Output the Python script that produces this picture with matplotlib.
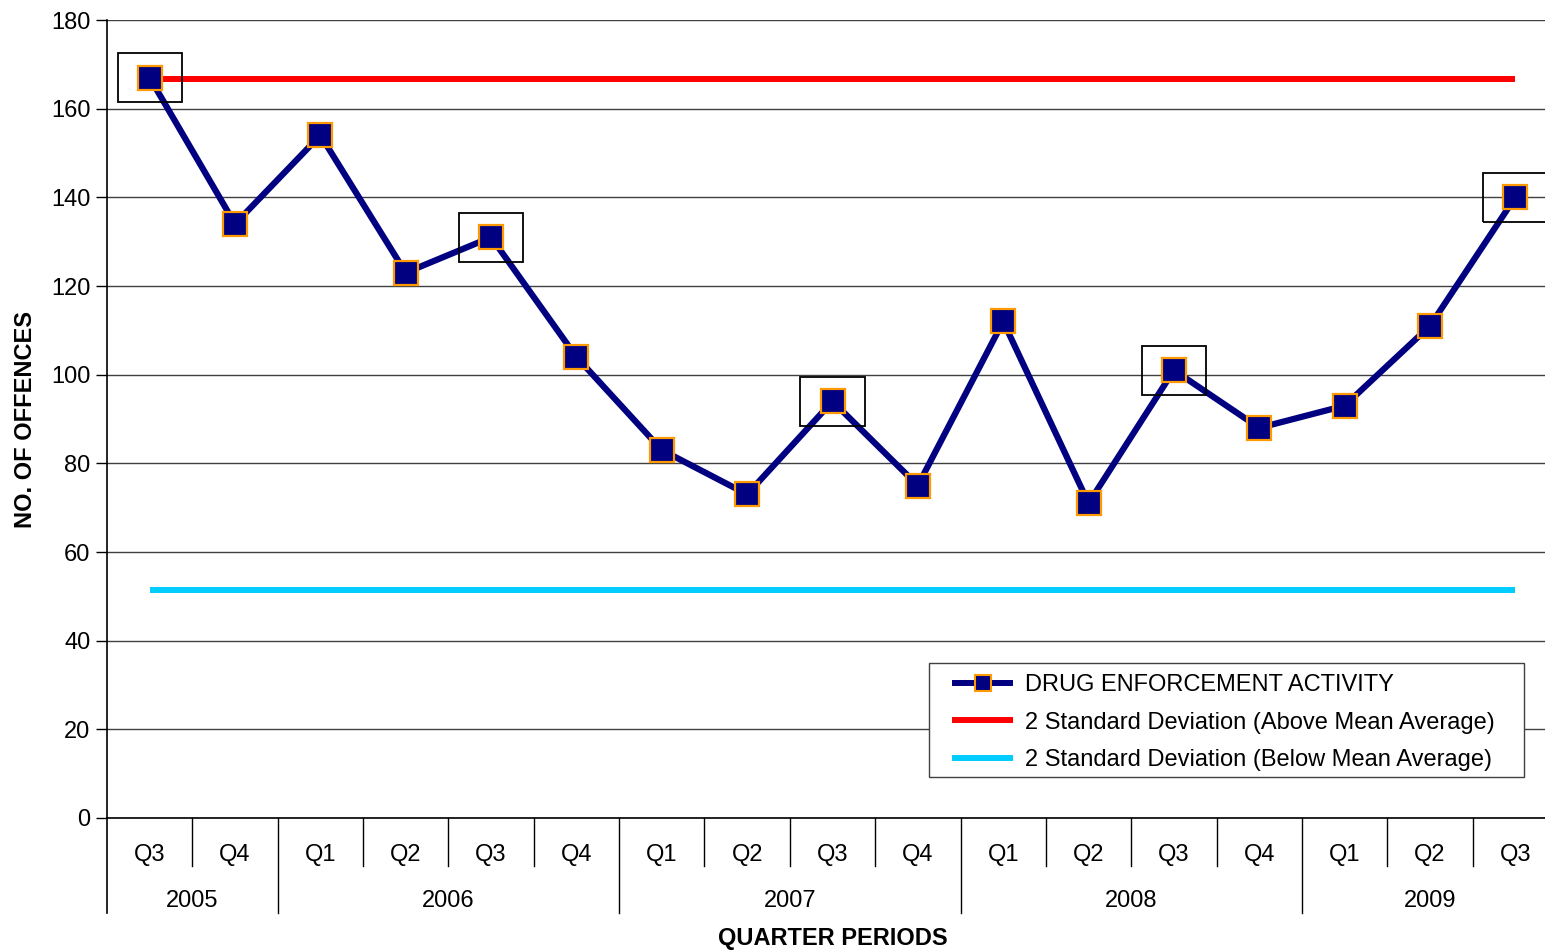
import matplotlib
matplotlib.use("Agg")
import matplotlib.pyplot as plt
from matplotlib.patches import Rectangle
from matplotlib.lines import Line2D

plt.rcParams['font.family'] = ['Liberation Sans', 'DejaVu Sans']

# ---- data ----
quarters = ["Q3", "Q4", "Q1", "Q2", "Q3", "Q4", "Q1", "Q2", "Q3", "Q4",
            "Q1", "Q2", "Q3", "Q4", "Q1", "Q2", "Q3"]
years = [2005, 2005, 2006, 2006, 2006, 2006, 2007, 2007, 2007, 2007,
         2008, 2008, 2008, 2008, 2009, 2009, 2009]
offences = [167, 134, 154, 123, 131, 104, 83, 73, 94, 75,
            112, 71, 101, 88, 93, 111, 140]
upper_limit = 166.8
lower_limit = 51.5
highlighted = [0, 4, 8, 12, 16]

series_label = "DRUG ENFORCEMENT ACTIVITY"
upper_label = "2 Standard Deviation (Above Mean Average)"
lower_label = "2 Standard Deviation (Below Mean Average)"

W, H = 1545, 950
fig = plt.figure(figsize=(W / 100, H / 100), dpi=100)
left_px, right_px, top_px, bottom_px = 107, 1558, 20, 818
ax = fig.add_axes([left_px / W, 1 - bottom_px / H, (right_px - left_px) / W, (bottom_px - top_px) / H])

n = len(offences)
x = list(range(n))
FS = 17

ax.hlines(upper_limit, 0, n - 1, color='#FF0000', lw=4.3, zorder=3)
ax.hlines(lower_limit, 0, n - 1, color='#00CCFF', lw=4.3, zorder=3)
ax.plot(x, offences, color='#000080', lw=4.5, marker='s', markersize=17.5,
        markerfacecolor='#000080', markeredgecolor='#FF9900', markeredgewidth=1.6, zorder=4)

for i in highlighted:
    ax.add_patch(Rectangle((i - 0.375, offences[i] - 5.5), 0.75, 11, fill=False,
                           edgecolor='black', lw=1.3, zorder=5, clip_on=False))

ax.set_xlim(-0.5, n - 0.5)
ax.set_ylim(0, 180)
ax.set_yticks(range(0, 181, 20))
ax.yaxis.grid(True, color='#404040', lw=1)
ax.set_axisbelow(True)
ax.tick_params(axis='y', labelsize=FS, length=8, width=1, direction='out', pad=4)
ax.set_xticks([])
for s in ['top', 'right']:
    ax.spines[s].set_visible(False)
ax.spines['left'].set_linewidth(1.2)
ax.spines['bottom'].set_linewidth(1.2)

ax.set_ylabel("NO. OF OFFENCES", fontsize=FS, fontweight='bold', labelpad=10)

# multi-level category axis
tr = ax.get_xaxis_transform()
ph = bottom_px - top_px
def ay(px):
    return -(px - bottom_px) / ph

for i, q in enumerate(quarters):
    ax.text(i, ay(855), q, transform=tr, ha='center', va='center', fontsize=FS, clip_on=False)
for i in range(1, n):
    if years[i] != years[i - 1]:
        ax.plot([i - 0.5, i - 0.5], [0, ay(913)], transform=tr, color='black', lw=1, clip_on=False)
    else:
        ax.plot([i - 0.5, i - 0.5], [0, ay(866)], transform=tr, color='black', lw=1, clip_on=False)
ax.plot([-0.5, -0.5], [0, ay(913)], transform=tr, color='black', lw=1.2, clip_on=False)

start = 0
for i in range(1, n + 1):
    if i == n or years[i] != years[start]:
        ax.text((start + i - 1) / 2, ay(901), str(years[start]), transform=tr,
                ha='center', va='center', fontsize=FS, clip_on=False)
        start = i

fig.text(833 / W, 1 - 939 / H, "QUARTER PERIODS", ha='center', va='center',
         fontsize=FS, fontweight='bold')

handles = [
    Line2D([], [], color='#000080', lw=4.3, marker='s', markersize=11,
           markerfacecolor='#000080', markeredgecolor='#FF9900', markeredgewidth=1.5),
    Line2D([], [], color='#FF0000', lw=4.3),
    Line2D([], [], color='#00CCFF', lw=4.3),
]
# legend frame drawn as a figure-level box
fig.add_artist(Rectangle((929 / W, 1 - 777 / H), (1524 - 929) / W, (777 - 663) / H,
                         transform=fig.transFigure, facecolor='white', edgecolor='#404040',
                         lw=1, zorder=9))
leg = fig.legend(handles, [series_label, upper_label, lower_label],
                 loc='upper left', bbox_to_anchor=(955 / W, 1 - 674 / H),
                 fontsize=FS, frameon=False,
                 handlelength=2.35, handletextpad=0.62, borderpad=0, labelspacing=0.66,
                 borderaxespad=0)
leg.set_zorder(10)

fig.savefig("out.png", dpi=100, facecolor='white')
